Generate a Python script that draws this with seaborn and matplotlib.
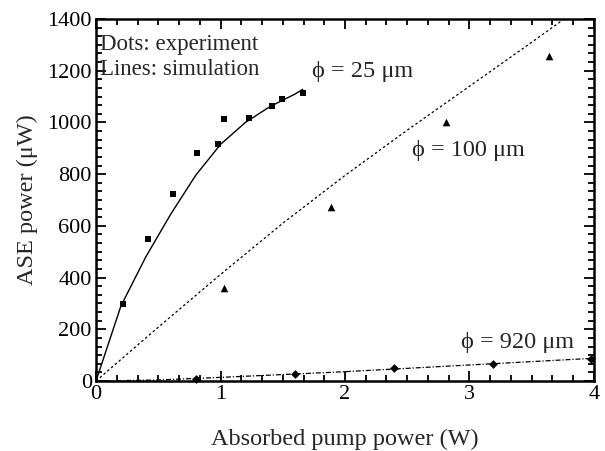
import matplotlib
matplotlib.use("Agg")
import matplotlib.pyplot as plt
import seaborn as sns
import pandas as pd
from matplotlib.ticker import AutoMinorLocator, MultipleLocator

# Experimental points (dots)
x_25 = [0.22, 0.42, 0.62, 0.81, 0.98, 1.03, 1.23, 1.41, 1.49, 1.66]
y_25 = [297, 550, 722, 880, 915, 1014, 1018, 1063, 1092, 1115]

x_100 = [1.03, 1.89, 2.81, 3.64]
y_100 = [361, 674, 1003, 1258]

x_920 = [0.80, 1.60, 2.39, 3.19, 3.98]
y_920 = [9, 29, 49, 66, 87]

# Simulation curves (lines)
sim_x_25 = [0, 0.2, 0.4, 0.6, 0.8, 1.0, 1.2, 1.4, 1.6, 1.66]
sim_y_25 = [0, 290, 480, 645, 795, 915, 1000, 1062, 1110, 1128]

sim_x_100 = [0, 0.5, 1.0, 1.5, 2.0, 2.5, 3.0, 3.5, 3.76]
sim_y_100 = [0, 208, 412, 610, 795, 970, 1140, 1310, 1400]

sim_x_920 = [0, 0.5, 1.0, 2.0, 3.0, 4.0]
sim_y_920 = [0, 4, 14, 36, 62, 88]

sns.set_style("ticks")
plt.rcParams['font.family'] = ['Liberation Serif', 'DejaVu Serif']

fig = plt.figure(figsize=(6.05, 4.51), dpi=100)
ax = fig.add_axes([0.1587, 0.1552, 0.8231, 0.8027])

# lines
sns.lineplot(x=sim_x_25, y=sim_y_25, ax=ax, color='black', linewidth=1.0, sort=False)
sns.lineplot(x=sim_x_100, y=sim_y_100, ax=ax, color='black', linewidth=0.9,
             linestyle=(0, (2, 2)), sort=False)
sns.lineplot(x=sim_x_920, y=sim_y_920, ax=ax, color='black', linewidth=0.9,
             linestyle=(0, (4, 1.5, 1, 1.5)), sort=False)

# dots
sns.scatterplot(x=x_25, y=y_25, ax=ax, marker='s', s=14, color='black', edgecolor='black', linewidth=0)
sns.scatterplot(x=x_100, y=y_100, ax=ax, marker='^', s=30, color='black', edgecolor='black', linewidth=0)
sns.scatterplot(x=x_920, y=y_920, ax=ax, marker='D', s=20, color='black', edgecolor='black', linewidth=0,
                clip_on=False)

ax.set_xlim(0, 4)
ax.set_ylim(0, 1400)
ax.xaxis.set_major_locator(MultipleLocator(1))
ax.yaxis.set_major_locator(MultipleLocator(200))
ax.xaxis.set_minor_locator(AutoMinorLocator(6))
ax.yaxis.set_minor_locator(AutoMinorLocator(6))
ax.tick_params(which='both', direction='in', top=True, right=True, width=1.3, colors='black',
               labelsize=16, pad=3)
ax.tick_params(which='major', length=7)
ax.tick_params(which='minor', length=4)
for sp in ax.spines.values():
    sp.set_linewidth(1.8)
    sp.set_color('black')

ax.set_xlabel("Absorbed pump power (W)", fontsize=17.5, labelpad=18)
ax.set_ylabel("ASE power (μW)", fontsize=17.5, labelpad=7)

ax.text(0.03, 1300, "Dots: experiment", fontsize=16.5, va='center', ha='left')
ax.text(0.03, 1203, "Lines: simulation", fontsize=16.5, va='center', ha='left')
ax.text(1.735, 1195, "ϕ = 25 μm", fontsize=17.5, va='center', ha='left')
ax.text(2.54, 893, "ϕ = 100 μm", fontsize=17.5, va='center', ha='left')
ax.text(2.93, 147, "ϕ = 920 μm", fontsize=17.5, va='center', ha='left')

fig.savefig("out.png", dpi=100)
